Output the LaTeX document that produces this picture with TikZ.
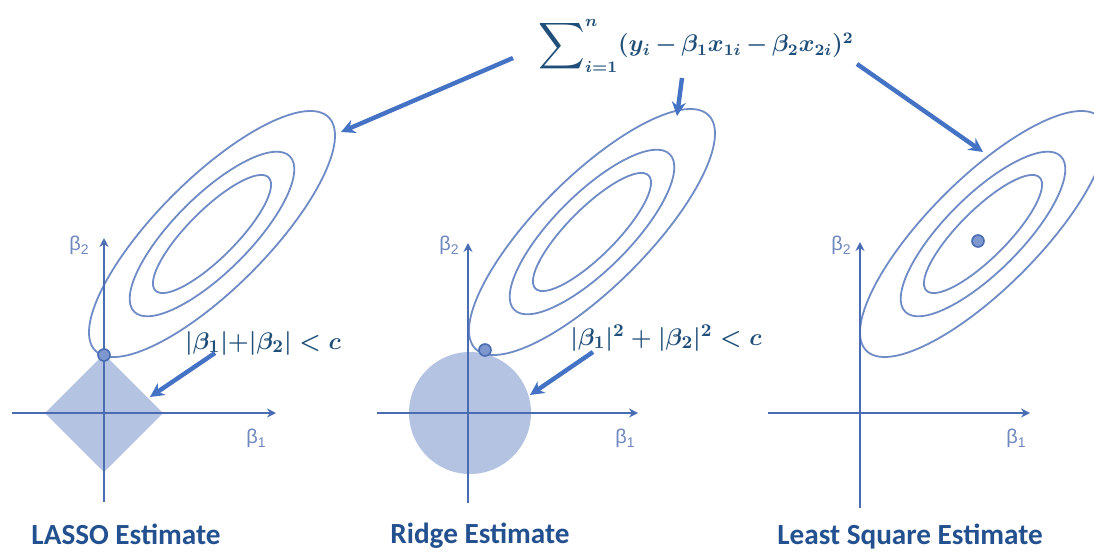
\documentclass[tikz,border=0pt]{standalone}
\usepackage{amsmath}
\usepackage{fontspec}
\setmainfont{Carlito}
\newfontfamily\axfont{Liberation Sans}
\usetikzlibrary{arrows.meta, positioning}
\definecolor{cdark}{HTML}{1F4E79}
\definecolor{ctitle}{HTML}{23508F}
\definecolor{carrow}{HTML}{4472C4}
\definecolor{caxis}{HTML}{4A6CB3}
\definecolor{cell}{HTML}{6F8BC6}
\definecolor{cfill}{HTML}{B4C3E1}
\definecolor{cdot}{HTML}{7F97CF}
\definecolor{clab}{HTML}{7088BE}
\newcommand{\bsub}[1]{β\raisebox{-0.4ex}{\fontsize{7}{7}\selectfont #1}}
\newcommand{\bigsum}{\mathop{\vcenter{\hbox{\scalebox{1.35}{$\displaystyle\sum$}}}}}
\tikzset{
  every picture/.style={x=0.5pt, y=-0.5pt},
  axis/.style={-{Stealth[length=4.5pt, width=4.5pt]}, draw=caxis, line width=1pt},
  ell/.style={draw=cell, line width=0.9pt},
  arrow/.style={-{Stealth[length=7pt, width=7pt]}, draw=carrow, line width=2.2pt},
  region/.style={fill=cfill, draw=none},
  dot/.style={circle, fill=cdot, draw=caxis, line width=0.8pt, minimum size=6pt, inner sep=0pt},
  title/.style={font=\fontsize{14.6}{16}\selectfont\bfseries, text=ctitle},
  eq/.style={font=\fontsize{13}{15}\selectfont\boldmath, text=cdark, inner sep=0pt},
  blab/.style={font=\axfont\fontsize{10}{11}\selectfont, text=clab, inner sep=0pt},
}
\begin{document}
\begin{tikzpicture}
  \useasboundingbox (0,0) rectangle (1094,552);
  \coordinate (e1) at (212,234);
  \coordinate (e2) at (592,232);
  \coordinate (e3) at (983,234);
  \fill[region] (104,354) -- (163,413) -- (104,472) -- (45,413) -- cycle;
  \fill[region] (470,413) circle (61);
  \foreach \c in {e1, e2, e3} {
    \draw[ell, rotate around={45:(\c)}] (\c) ellipse (165 and 55);
    \draw[ell, rotate around={45:(\c)}] (\c) ellipse (110 and 38);
    \draw[ell, rotate around={45:(\c)}] (\c) ellipse (80 and 24);
  }
  \foreach \ox/\l/\r/\t/\b in {104/12/276/238/502, 468/377/638/243/503, 860/768/1030/242/508} {
    \draw[axis] (\l,413) -- (\r,413);
    \draw[axis] (\ox,\b) -- (\ox,\t);
  }
  \node[dot] (d1) at (104,355) {};
  \node[dot] (d2) at (485,350) {};
  \node[dot] (d3) at (978,241) {};
  \node[blab] (y1) at (79,245) {\bsub{2}};
  \node[blab] (x1) at (256,438) {\bsub{1}};
  \node[blab] (y2) at (449,245) {\bsub{2}};
  \node[blab] (x2) at (625,438) {\bsub{1}};
  \node[blab] (y3) at (841,245) {\bsub{2}};
  \node[blab] (x3) at (1016,438) {\bsub{1}};
  \node[eq, font=\fontsize{11.8}{15}\selectfont\boldmath, anchor=west] (rss) at (538,46)
    {$\medmuskip=3mu\bigsum\nolimits_{i=1}^{n}(y_i-\beta_1x_{1i}-\beta_2x_{2i})^2$};
  \node[eq] (l1) at (263,343) {$|\beta_1|{+}|\beta_2|<c$};
  \node[eq, font=\fontsize{12.6}{15}\selectfont\boldmath] (l2) at (666,338) {$|\beta_1|^2+|\beta_2|^2<c$};
  \node[title] (lasso) at (126,534) {LASSO Estimate};
  \node[title] (ridge) at (480,536) {Ridge Estimate};
  \node[title] (ls) at (910,537) {Least Square Estimate};
  \coordinate (s1) at (513,58);  \coordinate (t1) at (341,132);
  \coordinate (s2) at (682,78);  \coordinate (t2) at (677,116);
  \coordinate (s3) at (857,64);  \coordinate (t3) at (983,152);
  \coordinate (s4) at (215,353); \coordinate (t4) at (150,397);
  \coordinate (s5) at (593,352); \coordinate (t5) at (530,395);
  \foreach \i in {1,...,5} \draw[arrow] (s\i) -- (t\i);
\end{tikzpicture}
\end{document}
